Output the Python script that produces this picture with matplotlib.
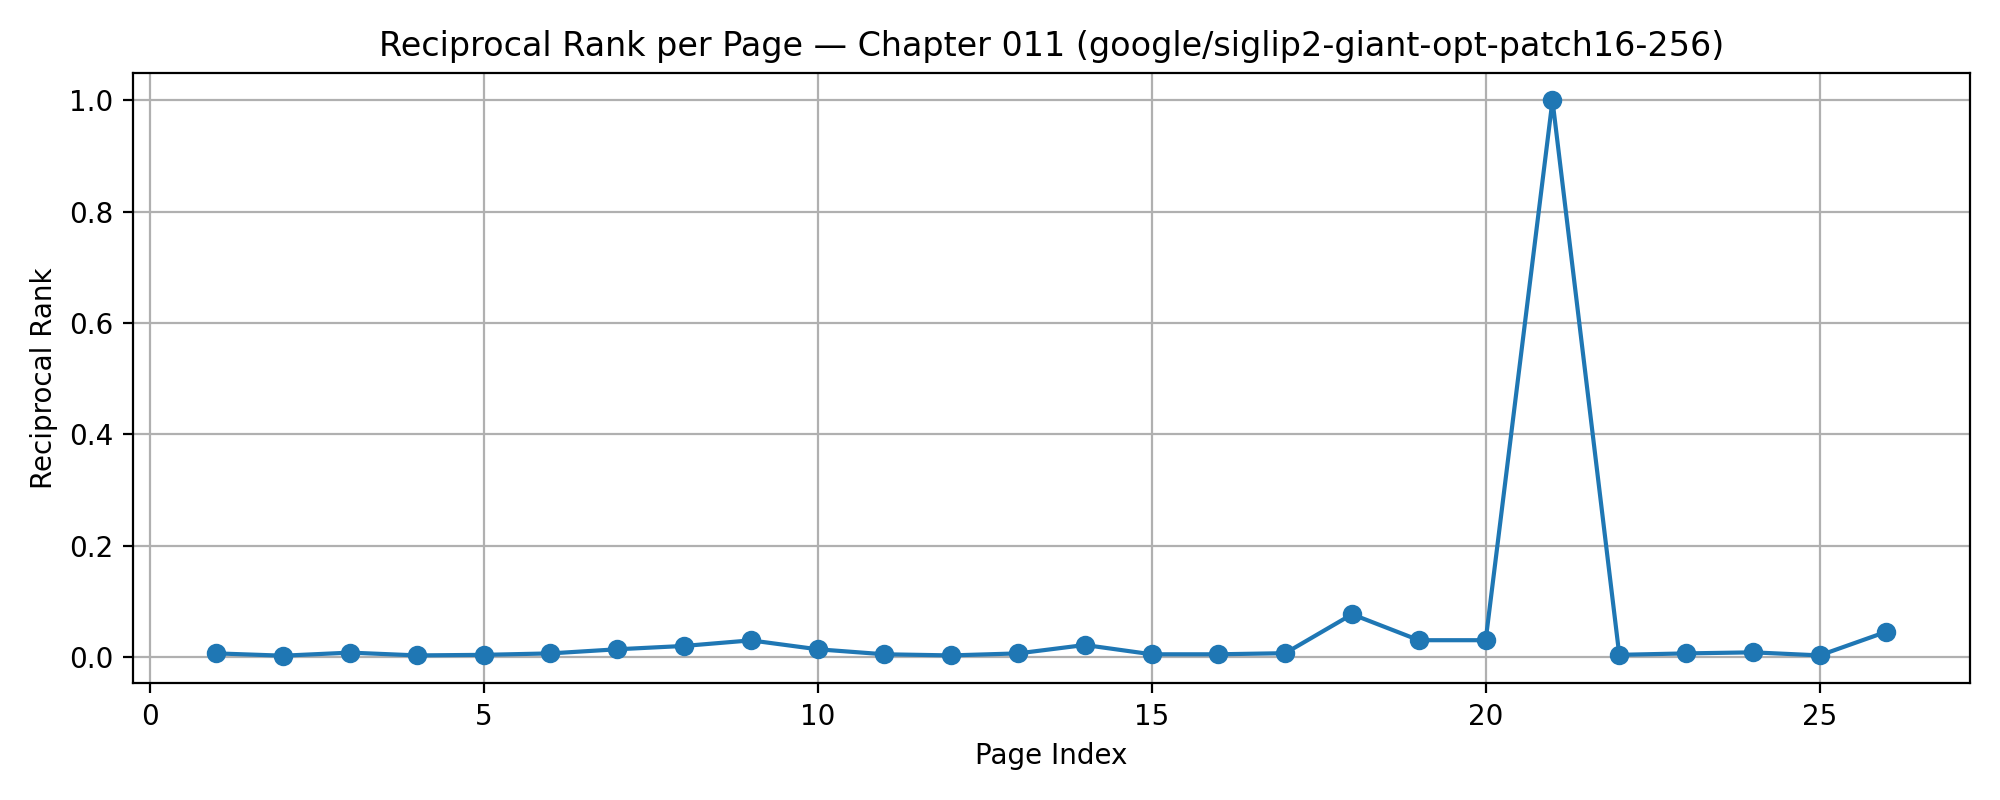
import matplotlib
matplotlib.use("Agg")
import matplotlib.pyplot as plt

pages = list(range(1, 27))
reciprocal_rank = [0.0066, 0.0025, 0.008, 0.003, 0.004, 0.0066, 0.014, 0.020, 0.030, 0.014,
                   0.005, 0.003, 0.0066, 0.0217, 0.005, 0.005, 0.007, 0.0769, 0.0303, 0.0303,
                   1.0, 0.004, 0.0066, 0.0085, 0.003, 0.0455]

fig, ax = plt.subplots(figsize=(10, 4), dpi=200)
ax.plot(pages, reciprocal_rank, marker="o")
ax.set_title("Reciprocal Rank per Page \u2014 Chapter 011 (google/siglip2-giant-opt-patch16-256)")
ax.set_xlabel("Page Index")
ax.set_ylabel("Reciprocal Rank")
ax.grid(True)
fig.tight_layout()
fig.savefig("out.png")
